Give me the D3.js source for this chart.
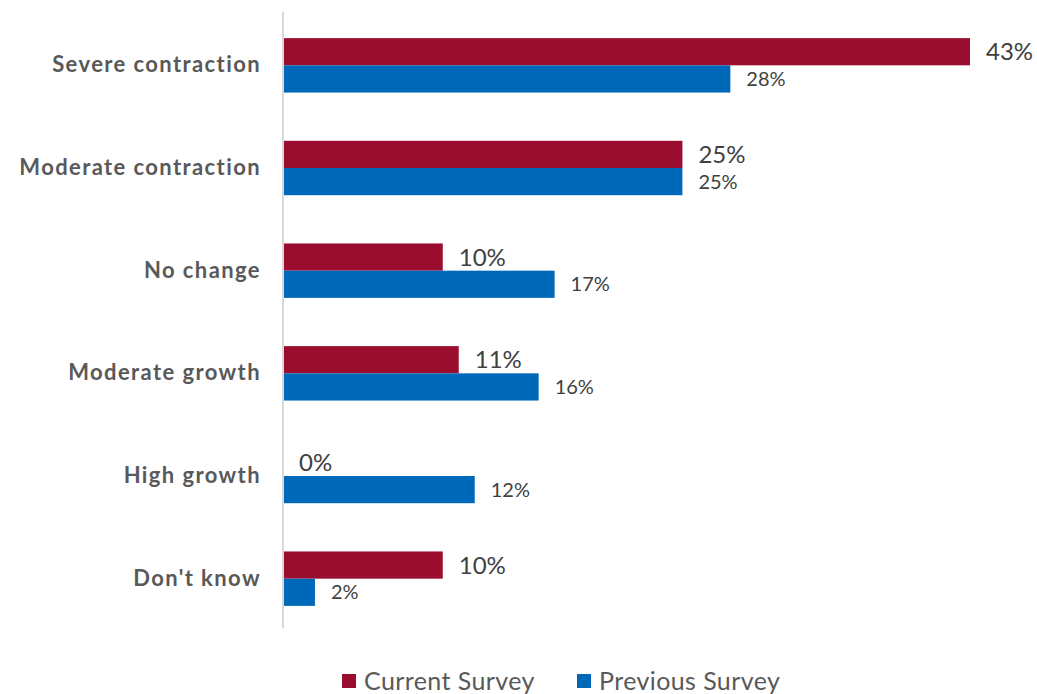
<!DOCTYPE html>
<html>
<head>
<meta charset="utf-8">
<script src="https://cdn.jsdelivr.net/npm/d3@7"></script>
<style>
  html, body { margin: 0; padding: 0; background: #ffffff; }
  svg { display: block; }
</style>
</head>
<body>
<svg id="chart" width="1037" height="694"></svg>
<script>
// Survey outlook: share of respondents per answer, current vs previous survey
const categories = ["Severe contraction", "Moderate contraction", "No change", "Moderate growth", "High growth", "Don't know"];
const currentSurvey = [43, 25, 10, 11, 0, 10];
const previousSurvey = [28, 25, 17, 16, 12, 2];
const seriesNames = ["Current Survey", "Previous Survey"];
const seriesColors = ["#9b0d2e", "#0068b9"];

const svg = d3.select("#chart");
const FONT = "Lato, 'Open Sans', sans-serif";

const x = d3.scaleLinear().domain([0, 43]).range([283, 970]);
const y = d3.scaleBand().domain(categories).range([14, 630]).paddingInner(0.47).paddingOuter(0.235);
const sub = d3.scaleBand().domain(seriesNames).range([0, y.bandwidth()]);

const rows = categories.map((c, i) => ({ cat: c, values: [currentSurvey[i], previousSurvey[i]] }));

// bars
const groups = svg.append("g").selectAll("g").data(rows).join("g")
  .attr("transform", d => `translate(0,${y(d.cat)})`);

groups.selectAll("rect").data(d => d.values.map((v, j) => ({ v, s: seriesNames[j], j })))
  .join("rect")
  .attr("x", x(0))
  .attr("y", d => sub(d.s))
  .attr("width", d => x(d.v) - x(0))
  .attr("height", sub.bandwidth())
  .attr("fill", d => seriesColors[d.j]);

// value labels
groups.selectAll("text").data(d => d.values.map((v, j) => ({ v, s: seriesNames[j], j })))
  .join("text")
  .attr("x", d => x(d.v) + 16)
  .attr("y", d => sub(d.s) + sub.bandwidth() / 2)
  .attr("dy", "0.36em")
  .attr("font-family", FONT)
  .attr("font-size", d => d.j === 0 ? 24 : 20)
  .attr("fill", "#404040")
  .text(d => d.v + "%");

// category axis
const yAxis = d3.axisLeft(y).tickSize(0).tickPadding(22);
const axisG = svg.append("g").attr("transform", `translate(${x(0)},0)`).call(yAxis);
axisG.select(".domain").remove();
axisG.selectAll("text")
  .attr("font-family", FONT)
  .attr("font-weight", "bold")
  .attr("font-size", 22)
  .attr("letter-spacing", "1.4px")
  .attr("fill", "#595959");

svg.append("line")
  .attr("x1", x(0)).attr("x2", x(0))
  .attr("y1", 12).attr("y2", 628)
  .attr("stroke", "#d9d9d9").attr("stroke-width", 2);

// legend
const legendX = [342, 577];
const legend = svg.append("g").selectAll("g").data(seriesNames).join("g")
  .attr("transform", (d, i) => `translate(${legendX[i]},674)`);
legend.append("rect").attr("width", 14).attr("height", 14).attr("fill", (d, i) => seriesColors[i]);
legend.append("text")
  .attr("x", 22).attr("y", 7).attr("dy", "0.36em")
  .attr("font-family", FONT).attr("font-size", 25).attr("letter-spacing", "0.4px").attr("fill", "#595959")
  .text(d => d);
</script>
</body>
</html>
